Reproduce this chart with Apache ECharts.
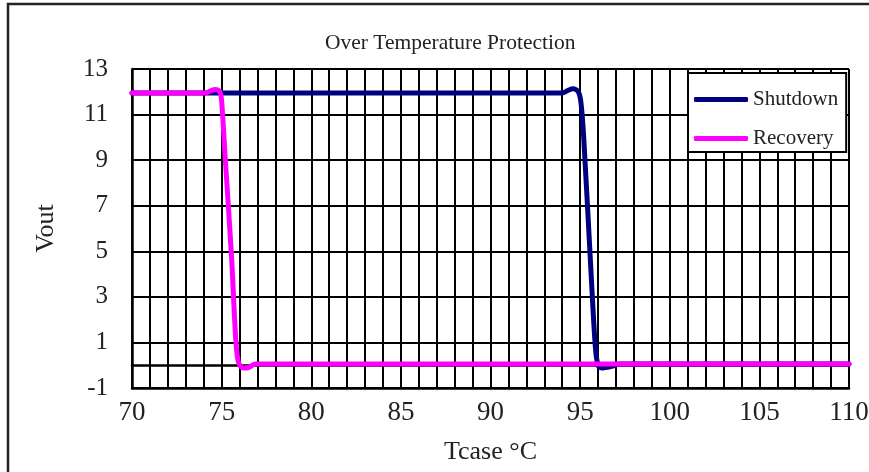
<!DOCTYPE html>
<html>
<head>
<meta charset="utf-8">
<script src="https://cdn.jsdelivr.net/npm/echarts@6/dist/echarts.min.js"></script>
<style>
html,body{margin:0;padding:0;background:#fff;}
#chart{width:869px;height:472px;}
</style>
</head>
<body>
<div id="chart"></div>
<script>
var titleText = 'Over Temperature Protection';
var seriesNames = ['Shutdown', 'Recovery'];
var shutdownX = [70, 94.0, 94.3, 94.6, 94.9, 95.05, 95.2, 95.6, 95.85, 96.0, 96.2, 96.75, 97.2, 110];
var shutdownY = [11.95, 11.95, 12.05, 12.13, 12.0, 11.5, 10.0, 4.2, 0.8, 0.0, -0.12, -0.05, 0.05, 0.05];
var recoveryX = [70, 74.1, 74.4, 74.65, 74.9, 75.0, 75.2, 75.55, 75.8, 75.95, 76.2, 76.5, 76.9, 110];
var recoveryY = [11.95, 11.95, 12.05, 12.1, 12.0, 11.6, 9.1, 4.8, 1.0, 0.1, -0.12, -0.1, 0.05, 0.05];
var xTickLabels = [70, 75, 80, 85, 90, 95, 100, 105, 110];
var yTickLabels = [-1, 1, 3, 5, 7, 9, 11, 13];

function pairs(xs, ys) { return xs.map(function (x, i) { return [x, ys[i]]; }); }

var serif = 'Liberation Serif';
var chart = echarts.init(document.getElementById('chart'));
chart.setOption({
  backgroundColor: '#fff',
  animation: false,
  title: {
    text: titleText, left: 320, top: 27,
    textStyle: { fontFamily: serif, fontSize: 21.5, fontWeight: 'normal', color: '#222' }
  },
  graphic: [{
    type: 'rect', z: 0,
    shape: { x: 8, y: 4, width: 1000, height: 1000 },
    style: { fill: 'none', stroke: '#222', lineWidth: 2.5 }
  }],
  legend: {
    data: seriesNames, orient: 'vertical', left: 688, top: 73,
    backgroundColor: '#fff', borderColor: '#000', borderWidth: 2,
    padding: [16, 8, 3, 6], itemGap: 18, itemWidth: 54, itemHeight: 5,
    icon: 'roundRect',
    textStyle: { fontFamily: serif, fontSize: 21, color: '#222' },
    z: 20
  },
  grid: { left: 132, right: 20, top: 69, bottom: 84, containLabel: false, outerBoundsMode: 'none' },
  xAxis: [{
    type: 'value', min: 70, max: 110, interval: 1,
    position: 'bottom',
    name: 'Tcase \u00B0C', nameLocation: 'middle', nameGap: 51,
    nameTextStyle: { fontFamily: serif, fontSize: 26, color: '#222' },
    axisLine: { show: true, onZero: false, lineStyle: { color: '#000', width: 2.5 } },
    axisTick: { show: false },
    axisLabel: {
      fontFamily: serif, fontSize: 27, color: '#222', margin: 11,
      formatter: function (v) { return xTickLabels.indexOf(v) >= 0 ? String(v) : ''; }
    },
    splitLine: { show: true, lineStyle: { color: '#000', width: 2 } }
  }, {
    type: 'value', min: 70, max: 110, interval: 5,
    position: 'bottom',
    axisLine: { show: true, onZero: true, lineStyle: { color: '#000', width: 2.5 } },
    axisTick: { show: true, inside: true, length: 6, lineStyle: { color: '#000', width: 2 } },
    axisLabel: { show: false },
    splitLine: { show: false }
  }],
  yAxis: {
    type: 'value', min: -1, max: 13, interval: 2,
    name: 'Vout', nameLocation: 'middle', nameGap: 73, nameRotate: 90,
    nameTextStyle: { fontFamily: serif, fontSize: 26, color: '#222' },
    axisLine: { show: true, onZero: false, lineStyle: { color: '#000', width: 2.5 } },
    axisTick: { show: true, inside: true, length: 9, lineStyle: { color: '#000', width: 2 } },
    axisLabel: {
      fontFamily: serif, fontSize: 25, color: '#222', margin: 24, padding: [9, 0, 0, 0],
      formatter: function (v) { return yTickLabels.indexOf(v) >= 0 ? String(v) : ''; }
    },
    splitLine: { show: true, lineStyle: { color: '#000', width: 2 } }
  },
  series: [{
    name: seriesNames[0], type: 'line', xAxisIndex: 0,
    data: pairs(shutdownX, shutdownY),
    showSymbol: false, smooth: 0.3,
    lineStyle: { color: '#000080', width: 5, cap: 'round', join: 'round' },
    itemStyle: { color: '#000080' }, z: 3
  }, {
    name: seriesNames[1], type: 'line', xAxisIndex: 0,
    data: pairs(recoveryX, recoveryY),
    showSymbol: false, smooth: 0.3,
    lineStyle: { color: '#FF00FF', width: 5, cap: 'round', join: 'round' },
    itemStyle: { color: '#FF00FF' }, z: 4
  }]
});
</script>
</body>
</html>
